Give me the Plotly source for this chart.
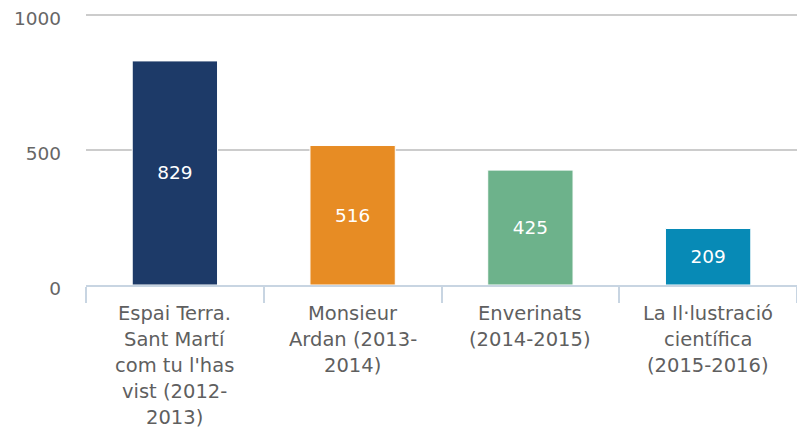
import plotly.graph_objects as go

# Exhibitions and visitor counts
categories = [
    "Espai Terra.<br>Sant Martí<br>com tu l'has<br>vist (2012-<br>2013)",
    "Monsieur<br>Ardan (2013-<br>2014)",
    "Enverinats<br>(2014-2015)",
    "La Il·lustració<br>científica<br>(2015-2016)",
]
values = [829, 516, 425, 209]
bar_colors = ["#1d3a68", "#e78c24", "#6db28b", "#078ab6"]
y_ticks = [0, 500, 1000]

FONT = "DejaVu Sans"
TEXT_GREY = "#5f5f5f"
AXIS_BLUE = "#c8d5e2"

fig = go.Figure(
    go.Bar(
        x=categories,
        y=values,
        marker=dict(color=bar_colors, line=dict(color="white", width=1)),
        width=0.48,
        text=[str(v) for v in values],
        textposition="inside",
        insidetextanchor="middle",
        textfont=dict(family=FONT, size=18.5, color="white"),
        hoverinfo="skip",
    )
)

# Category labels, one line per annotation for wider line spacing
annotations = []
for cat in categories:
    for j, line in enumerate(cat.split("<br>")):
        annotations.append(
            dict(
                x=cat,
                y=0,
                xref="x",
                yref="paper",
                text=line,
                showarrow=False,
                yanchor="middle",
                xanchor="center",
                yshift=-(28 + 26 * j),
                font=dict(family=FONT, size=19.5, color=TEXT_GREY),
            )
        )

fig.update_layout(
    width=797,
    height=434,
    margin=dict(l=86, r=0, t=12, b=149),
    paper_bgcolor="white",
    plot_bgcolor="white",
    showlegend=False,
    bargap=0.52,
    annotations=annotations,
    font=dict(family=FONT, size=18.5, color=TEXT_GREY),
)

fig.update_xaxes(
    type="category",
    showticklabels=False,
    showline=True,
    linecolor=AXIS_BLUE,
    linewidth=2,
    ticks="outside",
    tickson="boundaries",
    ticklen=16,
    tickwidth=1.5,
    tickcolor=AXIS_BLUE,
    showgrid=False,
)

fig.update_yaxes(
    range=[0, 1010],
    tickvals=y_ticks,
    ticktext=[str(t) for t in y_ticks],
    showgrid=True,
    gridcolor="#cccccc",
    gridwidth=1.5,
    zeroline=False,
    showline=False,
    ticklabelstandoff=24,
    ticklabelshift=4,
    tickfont=dict(family=FONT, size=18.5, color="#666666"),
)

fig.write_html("out.html")
